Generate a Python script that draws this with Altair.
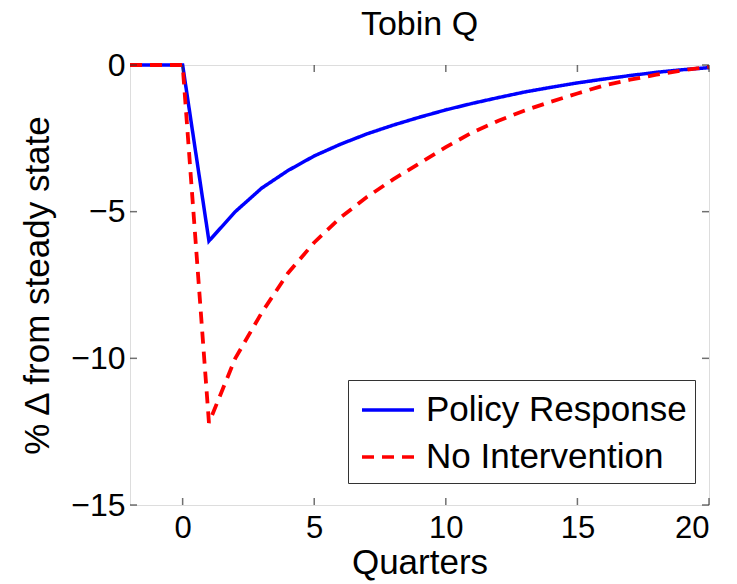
import altair as alt
import pandas as pd

quarters = list(range(-2, 21))
policy_response = [0.0, 0.0, 0.0, -6.0, -5.0, -4.2, -3.6, -3.1, -2.7, -2.35, -2.05, -1.78,
                   -1.53, -1.31, -1.11, -0.92, -0.76, -0.61, -0.48, -0.36, -0.25, -0.16, -0.09]
no_intervention = [0.0, 0.0, 0.0, -12.2, -10.0, -8.45, -7.1, -6.05, -5.2, -4.5, -3.9, -3.35,
                   -2.8, -2.3, -1.9, -1.55, -1.25, -0.97, -0.7, -0.5, -0.33, -0.18, -0.06]
series_names = ["Policy Response", "No Intervention"]
x_ticks = [0, 5, 10, 15, 20]
y_ticks = [-15, -10, -5, 0]

df = pd.concat([
    pd.DataFrame({"q": quarters, "v": policy_response, "series": series_names[0]}),
    pd.DataFrame({"q": quarters, "v": no_intervention, "series": series_names[1]}),
])
xt = pd.DataFrame({"t": x_ticks})
yt = pd.DataFrame({"t": y_ticks})

FONT = "Liberation Sans"
xscale = alt.Scale(domain=[-2, 20], nice=False, zero=False)
yscale = alt.Scale(domain=[-15, 0], nice=False, zero=False)

legend_opts = dict(title=None, orient="none", legendX=218, legendY=315,
                   strokeColor="#333333", fillColor="white", padding=8,
                   symbolType="M-1.3,0H1.3", symbolSize=1600, symbolOffset=10,
                   symbolStrokeWidth=3.5, labelFontSize=35, labelFont=FONT,
                   labelColor="black", labelOffset=16, rowPadding=7, labelLimit=0)

color = alt.Color("series:N",
                  scale=alt.Scale(domain=series_names, range=["#0000ff", "#ff0000"]),
                  legend=alt.Legend(**legend_opts))
dash = alt.StrokeDash("series:N",
                      scale=alt.Scale(domain=series_names, range=[[1, 0], [12, 8]]),
                      legend=alt.Legend(**legend_opts))

xaxis = alt.Axis(values=x_ticks, tickSize=0, domain=False, grid=False, labelFontSize=31,
                 labelFont=FONT, labelColor="black", labelPadding=8, title="Quarters",
                 titleFontSize=35, titleFont=FONT, titleFontWeight="normal",
                 titleColor="black", titlePadding=2)
yaxis = alt.Axis(values=y_ticks, tickSize=0, domain=False, grid=False, labelFontSize=32,
                 labelFont=FONT, labelColor="black", labelPadding=5,
                 title="% Δ from steady state", titleFontSize=35, titleFont=FONT,
                 titleFontWeight="normal", titleColor="black", titlePadding=15)

base = alt.Chart(df)
line_p = base.transform_filter(alt.datum.series == series_names[0]).mark_line(strokeWidth=3.5).encode(
    x=alt.X("q:Q", scale=xscale, axis=xaxis),
    y=alt.Y("v:Q", scale=yscale, axis=yaxis),
    color=color, strokeDash=dash)
line_n = base.transform_filter(alt.datum.series == series_names[1]).mark_line(strokeWidth=3.8).encode(
    x=alt.X("q:Q", scale=xscale),
    y=alt.Y("v:Q", scale=yscale),
    color=color, strokeDash=dash)

tick_style = dict(color="#333333", thickness=1.5, size=7)
tb = alt.Chart(xt).mark_tick(orient="vertical", **tick_style).encode(
    x=alt.X("t:Q", scale=xscale), y=alt.datum(-15), yOffset=alt.value(-3.5))
tt = alt.Chart(xt).mark_tick(orient="vertical", **tick_style).encode(
    x=alt.X("t:Q", scale=xscale), y=alt.datum(0), yOffset=alt.value(3.5))
tl = alt.Chart(yt).mark_tick(orient="horizontal", **tick_style).encode(
    y=alt.Y("t:Q", scale=yscale), x=alt.datum(-2), xOffset=alt.value(3.5))
tr = alt.Chart(yt).mark_tick(orient="horizontal", **tick_style).encode(
    y=alt.Y("t:Q", scale=yscale), x=alt.datum(20), xOffset=alt.value(-3.5))

chart = alt.layer(line_p, line_n, tb, tt, tl, tr).properties(
    width=579, height=440,
    title=alt.TitleParams("Tobin Q", fontSize=34, font=FONT, fontWeight="normal",
                          color="black", anchor="middle", baseline="alphabetic", offset=-20),
    autosize=alt.AutoSizeParams(type="none"),
    padding={"left": 130, "top": 65, "right": 28, "bottom": 79},
).configure_view(stroke="#333333", strokeWidth=1.5).configure(background="white")

chart.save("out.html", embed_options={"renderer": "svg", "actions": False})
